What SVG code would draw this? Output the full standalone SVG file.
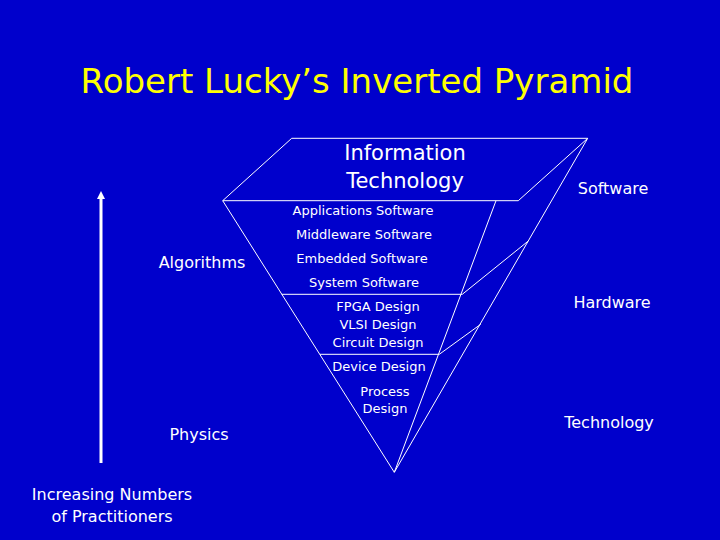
<svg xmlns="http://www.w3.org/2000/svg" width="720" height="540" viewBox="0 0 720 540">
<style>
text{font-family:"DejaVu Sans","Liberation Sans",sans-serif;fill:#fff;text-anchor:middle}
.s{font-size:13px}
.m{font-size:16px}
.l{font-size:21px}
line,polyline,polygon{stroke:#fff;stroke-width:1;fill:none}
</style>
<defs><marker id="ah" markerWidth="10" markerHeight="10" refX="4" refY="5" orient="auto" markerUnits="userSpaceOnUse"><path d="M1,1 L9,5 L1,9 Z" fill="#fff"/></marker></defs>
<rect width="720" height="540" fill="#0000CC"/>
<text x="357" y="93" style="font-size:34px;fill:#FFFF00">Robert Lucky’s Inverted Pyramid</text>
<g id="connectors">
<polygon points="291.7,138.3 587.7,138.3 518.3,200.7 222.7,200.7"/>
<line x1="222.7" y1="200.7" x2="394.3" y2="472.3"/>
<line x1="496" y1="200.7" x2="394.3" y2="472.3"/>
<line x1="587.7" y1="138.3" x2="394.3" y2="472.3"/>
<line x1="281.7" y1="294.3" x2="462.3" y2="294.3"/>
<line x1="320" y1="354.3" x2="439.3" y2="354.3"/>
<line x1="462.3" y1="294.3" x2="528.3" y2="241"/>
<line x1="439.3" y1="354.3" x2="480.7" y2="324.3"/>
<line x1="101" y1="463" x2="101" y2="196" style="stroke-width:3" marker-end="url(#ah)"/>
</g>
<g id="it"><text class="l" x="405" y="160">Information</text><text class="l" x="405" y="188">Technology</text></g>
<g id="sw"><text class="s" x="363" y="215">Applications Software</text><text class="s" x="364" y="239">Middleware Software</text><text class="s" x="362" y="263">Embedded Software</text><text class="s" x="364" y="287">System Software</text></g>
<g id="hw"><text class="s" x="378" y="311">FPGA Design</text><text class="s" x="378" y="329">VLSI Design</text><text class="s" x="378" y="347">Circuit Design</text></g>
<g id="tech"><text class="s" x="379" y="371">Device Design</text><text class="s" x="385" y="396">Process</text><text class="s" x="385" y="413">Design</text></g>
<g id="labels">
<text class="m" x="613" y="194">Software</text>
<text class="m" x="612" y="308">Hardware</text>
<text class="m" x="609" y="428">Technology</text>
<text class="m" x="202" y="268">Algorithms</text>
<text class="m" x="199" y="440">Physics</text>
<text class="m" x="112" y="500">Increasing Numbers</text>
<text class="m" x="112" y="522">of Practitioners</text>
</g>
</svg>
